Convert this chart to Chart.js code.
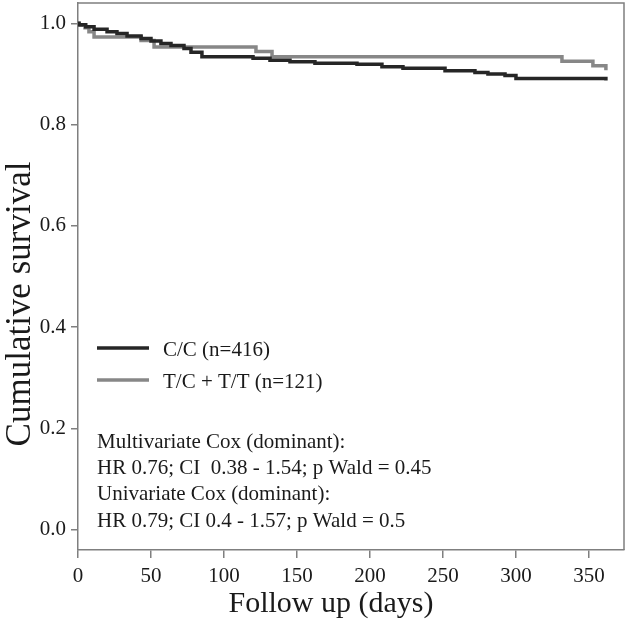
<!DOCTYPE html>
<html>
<head>
<meta charset="utf-8">
<script src="https://cdn.jsdelivr.net/npm/chart.js@4"></script>
<style>
  body { margin: 0; background: #fff; }
  #wrap { width: 630px; height: 627px; position: relative; }
</style>
</head>
<body>
<div id="wrap"><canvas id="myChart"></canvas></div>
<script>
// Kaplan-Meier steps (days, cumulative survival)
var ccDays = [0, 0.7, 5.3, 11.0, 19.9, 26.7, 33.6, 43.2, 50.0, 56.8, 63.7, 72.6, 77.4, 84.9,
              119.9, 131.5, 145.2, 162.3, 191.1, 208.2, 222.6, 251.4, 271.9, 280.8, 292.5, 300, 361.6];
var ccSurv = [1.0, 0.997, 0.993, 0.988, 0.983, 0.980, 0.975, 0.970, 0.965, 0.960, 0.956, 0.950, 0.943, 0.934,
              0.931, 0.927, 0.924, 0.921, 0.919, 0.914, 0.911, 0.906, 0.903, 0.900, 0.897, 0.891, 0.887];

var tcDays = [0, 0.7, 4.8, 7.5, 11.0, 43.2, 52.1, 121.9, 132.9, 331.5, 352.7, 361.6];
var tcSurv = [1.0, 0.996, 0.991, 0.983, 0.973, 0.966, 0.953, 0.944, 0.934, 0.925, 0.916, 0.907];

var seriesNames = ["C/C (n=416)", "T/C + T/T (n=121)"];
var seriesColors = ["#262626", "#878787"];

var xTicks = [0, 50, 100, 150, 200, 250, 300, 350];
var yTicks = [0, 0.2, 0.4, 0.6, 0.8, 1.0];

var xTitle = "Follow up (days)";
var yTitle = "Cumulative survival";

var noteLines = [
  "Multivariate Cox (dominant):",
  "HR 0.76; CI  0.38 - 1.54; p Wald = 0.45",
  "Univariate Cox (dominant):",
  "HR 0.79; CI 0.4 - 1.57; p Wald = 0.5"
];

function toPoints(xs, ys) {
  var pts = [];
  for (var i = 0; i < xs.length; i++) pts.push({x: xs[i], y: ys[i]});
  return pts;
}

var serif = "'Liberation Serif', 'DejaVu Serif', serif";
var frameColor = "#7f7f7f";
var textColor = "#1a1a1a";

// box around the plot, axis titles, legend and the Cox notes
var extras = {
  id: "extras",
  beforeDatasetsDraw: function(chart) {
    var a = chart.chartArea, ctx = chart.ctx;
    ctx.save();
    ctx.strokeStyle = frameColor;
    ctx.lineWidth = 1.5;
    ctx.beginPath();
    ctx.moveTo(a.left, a.top);
    ctx.lineTo(a.right, a.top);
    ctx.lineTo(a.right, a.bottom);
    ctx.stroke();
    ctx.restore();
  },
  afterDraw: function(chart) {
    var ctx = chart.ctx;
    ctx.save();
    ctx.fillStyle = textColor;
    ctx.textBaseline = "middle";

    // axis titles (the original sets them off-centre)
    ctx.textAlign = "center";
    ctx.font = "30px " + serif;
    ctx.fillText(xTitle, 331, 604);
    ctx.save();
    ctx.translate(21, 304);
    ctx.rotate(-Math.PI / 2);
    ctx.font = "35px " + serif;
    ctx.fillText(yTitle, 0, 0);
    ctx.restore();

    ctx.textAlign = "left";
    ctx.font = "21px " + serif;
    var ly = [348, 380];
    for (var i = 0; i < seriesNames.length; i++) {
      ctx.strokeStyle = seriesColors[i];
      ctx.lineWidth = 3.5;
      ctx.beginPath();
      ctx.moveTo(97, ly[i]);
      ctx.lineTo(149, ly[i]);
      ctx.stroke();
      ctx.fillText(seriesNames[i], 163, ly[i] + 2);
    }
    var ny = [442, 468, 494, 521];
    for (var j = 0; j < noteLines.length; j++) {
      ctx.fillText(noteLines[j], 97, ny[j]);
    }
    ctx.restore();
  }
};

new Chart("myChart", {
  type: "line",
  data: {
    datasets: [{
      label: seriesNames[0],
      data: toPoints(ccDays, ccSurv),
      borderColor: seriesColors[0],
      borderWidth: 3.5,
      stepped: true,
      pointRadius: 0,
      fill: false
    }, {
      label: seriesNames[1],
      data: toPoints(tcDays, tcSurv),
      borderColor: seriesColors[1],
      borderWidth: 3.5,
      stepped: true,
      pointRadius: 0,
      fill: false
    }]
  },
  options: {
    responsive: true,
    maintainAspectRatio: false,
    animation: false,
    layout: { padding: { top: 3, right: 6, left: 0, bottom: 0 } },
    plugins: {
      legend: { display: false },
      tooltip: { enabled: false }
    },
    scales: {
      x: {
        type: "linear",
        min: 0,
        max: 374,
        afterBuildTicks: function(scale) {
          scale.ticks = xTicks.map(function(v) { return {value: v}; });
        },
        afterFit: function(scale) {
          scale.height = 77;
          scale.paddingLeft = 0;
          scale.paddingRight = 0;
        },
        border: { display: true, color: frameColor, width: 1.5 },
        grid: { drawOnChartArea: false, drawTicks: true, tickLength: 8, color: frameColor, lineWidth: 1.5 },
        ticks: {
          padding: 6,
          color: textColor,
          font: { family: serif, size: 21 },
          maxRotation: 0,
          callback: function(v) { return String(v); }
        }
      },
      y: {
        type: "linear",
        min: -0.04,
        max: 1.04,
        afterBuildTicks: function(scale) {
          scale.ticks = yTicks.map(function(v) { return {value: v}; });
        },
        afterFit: function(scale) {
          scale.width = 78;
          scale.paddingTop = 0;
          scale.paddingBottom = 0;
        },
        border: { display: true, color: frameColor, width: 1.5 },
        grid: { drawOnChartArea: false, drawTicks: true, tickLength: 7, color: frameColor, lineWidth: 1.5 },
        ticks: {
          padding: 5,
          color: textColor,
          font: { family: serif, size: 21 },
          callback: function(v) { return v.toFixed(1); }
        }
      }
    }
  },
  plugins: [extras]
});
</script>
</body>
</html>
